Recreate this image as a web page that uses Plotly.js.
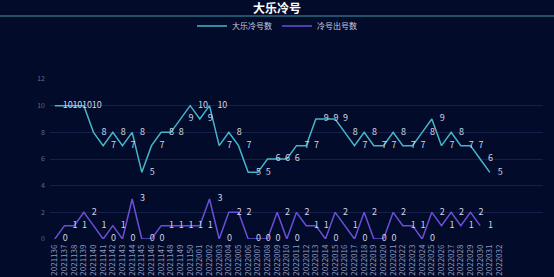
<!DOCTYPE html>
<html><head><meta charset="utf-8">
<script src="https://cdn.plot.ly/plotly-3.0.1.min.js"></script>
<style>html,body{margin:0;padding:0;background:#030b2a;}#c{width:554px;height:277px;}</style>
</head><body><div id="c"></div>
<script>
const categories = ["2021136","2021137","2021138","2021139","2021140","2021141","2021142","2021143","2021144","2021145","2021146","2021147","2021148","2021149","2021150",
"2022001","2022002","2022003","2022004","2022005","2022006","2022007","2022008","2022009","2022010","2022011","2022012","2022013","2022014","2022015","2022016",
"2022017","2022018","2022019","2022020","2022021","2022022","2022023","2022024","2022025","2022026","2022027","2022028","2022029","2022030","2022031","2022032"];
const coldCount = [10,10,10,10,8,7,8,7,8,5,7,8,8,9,10,9,10,7,8,7,5,5,6,6,6,7,7,9,9,9,8,7,8,7,7,8,7,7,8,9,7,8,7,7,6,5];
const hitCount = [0,1,1,2,1,0,1,0,3,0,0,1,1,1,1,1,3,0,2,2,0,0,0,2,0,2,1,1,0,2,1,0,2,0,0,2,1,1,0,2,1,2,1,2,1];
const seriesNames = ["大乐冷号数","冷号出号数"];
const titleText = "大乐冷号";

const font = "Noto Sans CJK SC, Noto Sans, sans-serif";
const labelFont = {family: font, size: 9, color: "#cfd5e6"};
function mk(vals, name, color) {
  return {x: categories.slice(0, vals.length), y: vals, name: name, type: "scatter", mode: "lines+markers+text",
   text: vals.map(String), textposition: "middle right", textfont: labelFont,
   marker: {size: 11, color: "rgba(0,0,0,0)"},
   line: {color: color, width: 1.5}, cliponaxis: false};
}
const traces = [mk(coldCount, seriesNames[0], "#45b6ca"), mk(hitCount, seriesNames[1], "#6a4fd8")];
const layout = {
  width: 554, height: 277,
  paper_bgcolor: "#030b2a", plot_bgcolor: "#030b2a",
  margin: {l: 50, r: 11, t: 79, b: 38},
  font: {family: font, color: "#c5cbe0"},
  showlegend: true,
  legend: {orientation: "h", xref: "container", x: 0.5, xanchor: "center", yref: "container", y: 1 - 26/277, yanchor: "middle",
           font: {family: font, size: 8, color: "#c5cbe0"}, bgcolor: "rgba(0,0,0,0)", itemwidth: 30, tracegroupgap: 0},
  xaxis: {type: "category", categoryorder: "array", categoryarray: categories, range: [-0.5, 50.5],
          showgrid: false, zeroline: false, showline: false, ticks: "",
          tickvals: categories, ticktext: categories, tickangle: -90, ticklabelstandoff: 3,
          tickfont: {family: font, size: 8, color: "#8e97bb"}, fixedrange: true},
  yaxis: {range: [0, 12], dtick: 2, showgrid: true, gridcolor: "#16204a", gridwidth: 1, zeroline: false, showline: false, ticks: "",
          tickfont: {family: font, size: 7, color: "#5d6690"}, ticklabelstandoff: 4, fixedrange: true},
  annotations: [{text: "<b>" + titleText + "</b>", xref: "paper", yref: "paper", x: (277-50)/493, y: (239-8)/160,
                 xanchor: "center", yanchor: "middle", showarrow: false,
                 font: {family: font, size: 12, color: "#ffffff"}}],
  shapes: [{type: "line", xref: "paper", yref: "paper", x0: -50/493, x1: 504/493, y0: (239-16)/160, y1: (239-16)/160,
            line: {color: "#3f9aa8", width: 1}}]
};
Plotly.newPlot("c", traces, layout, {staticPlot: true, displayModeBar: false});
</script></body></html>
